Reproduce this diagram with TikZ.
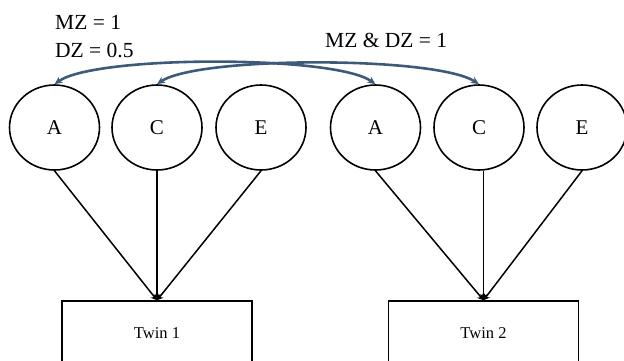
\documentclass[tikz,border=0pt]{standalone}
\usepackage{fontspec}
\setmainfont{Liberation Serif}
\usetikzlibrary{shapes.geometric,arrows.meta}
\definecolor{corr}{HTML}{3E5A7A}
\tikzset{
  latent/.style={ellipse,draw,line width=1.6pt,minimum width=90pt,minimum height=85pt,inner sep=0pt,font=\fontsize{21}{24}\selectfont},
  obs/.style={rectangle,draw,line width=1.6pt,minimum width=190pt,minimum height=64pt,inner sep=0pt,font=\fontsize{16.5}{19}\selectfont},
  path/.style={line width=1.5pt,-{Stealth[length=6pt,width=7pt]}},
  covar/.style={corr,line width=2.6pt,{Stealth[length=8pt,width=7pt]}-{Stealth[length=8pt,width=7pt]}},
  lab/.style={anchor=base west,inner sep=0pt,font=\fontsize{21.5}{24}\selectfont}
}
\begin{document}
\begin{tikzpicture}[x=1pt,y=-1pt]
\useasboundingbox (0,0) rectangle (624,360);
\node[latent] (A1) at (54.5,127.5) {A};
\node[latent] (C1) at (157,127.5) {C};
\node[latent] (E1) at (261,127.5) {E};
\node[latent] (A2) at (375.5,127.5) {A};
\node[latent] (C2) at (479,127.5) {C};
\node[latent] (E2) at (582,127.5) {E};
\node[obs] (T1) at (157,333) {Twin 1};
\node[obs] (T2) at (483.5,333) {Twin 2};
\foreach \n in {A1,C1,E1}{\draw[path] (\n.south) -- (T1.north);}
\draw[path] (A2.south) -- (T2.north);
\draw[path] (T2.north |- C2.south) -- (T2.north);
\draw[path] (E2.south) -- (T2.north);
\draw[covar] (A1.north) .. controls (95,55) and (335,55) .. (A2.north);
\draw[covar] (C1.north) .. controls (198,56) and (436,56) .. (C2.north);
\node[lab] (l1) at (55,29.3) {MZ = 1};
\node[lab] (l2) at (55,57.3) {DZ = 0.5};
\node[lab] (l3) at (325,47.5) {MZ \& DZ = 1};
\end{tikzpicture}
\end{document}
